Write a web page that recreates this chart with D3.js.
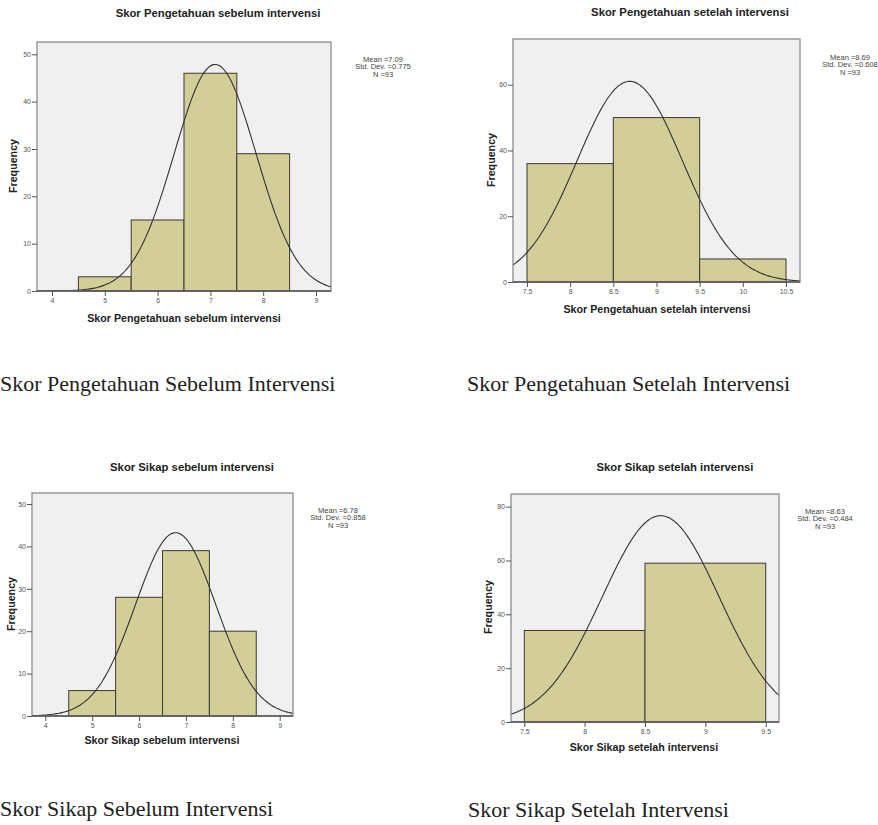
<!DOCTYPE html>
<html>
<head>
<meta charset="utf-8">
<script src="https://cdn.jsdelivr.net/npm/d3@7"></script>
<style>
  body { margin: 0; background: #fff; }
  svg { display: block; }
</style>
</head>
<body>
<svg id="chart" width="878" height="825"></svg>
<script>
// ---- data ----
const titles = [
  "Skor Pengetahuan sebelum intervensi",
  "Skor Pengetahuan setelah intervensi",
  "Skor Sikap sebelum intervensi",
  "Skor Sikap setelah intervensi"
];
const captions = [
  "Skor Pengetahuan Sebelum Intervensi",
  "Skor Pengetahuan Setelah Intervensi",
  "Skor Sikap Sebelum Intervensi",
  "Skor Sikap Setelah Intervensi"
];
// bin centres (bin width 1) and counts
const binsPengSebelum = [5, 6, 7, 8];
const countsPengSebelum = [3, 15, 46, 29];
const binsPengSetelah = [8, 9, 10];
const countsPengSetelah = [36, 50, 7];
const binsSikapSebelum = [5, 6, 7, 8];
const countsSikapSebelum = [6, 28, 39, 20];
const binsSikapSetelah = [8, 9];
const countsSikapSetelah = [34, 59];

const means = [7.09, 8.69, 6.78, 8.63];
const stdDevs = [0.775, 0.608, 0.858, 0.484];
const nValues = [93, 93, 93, 93];
const meanLabels = ["7.09", "8.69", "6.78", "8.63"];
const sdLabels = ["0.775", "0.608", "0.858", "0.484"];

const xTicks = [
  [4, 5, 6, 7, 8, 9],
  [7.5, 8, 8.5, 9, 9.5, 10, 10.5],
  [4, 5, 6, 7, 8, 9],
  [7.5, 8, 8.5, 9, 9.5]
];
const yTicks = [
  [0, 10, 20, 30, 40, 50],
  [0, 20, 40, 60],
  [0, 10, 20, 30, 40, 50],
  [0, 20, 40, 60, 80]
];
const xDomains = [[3.716, 9.284], [7.338, 10.662], [3.716, 9.284], [7.39, 9.61]];
const yDomains = [[0, 52.6], [0, 73.9], [0, 52.6], [0, 84.7]];

const bins = [binsPengSebelum, binsPengSetelah, binsSikapSebelum, binsSikapSetelah];
const counts = [countsPengSebelum, countsPengSetelah, countsSikapSebelum, countsSikapSetelah];

// ---- layout (pixel boxes of each panel) ----
const layout = [
  { l: 37, r: 331, t: 42, b: 291, titleX: 218, titleY: 17, xlabX: 184, xlabY: 322, ylabX: 14, ylabY: 166, statX: 383, statY: 60, capX: 0, capY: 391 },
  { l: 513, r: 800, t: 39, b: 282, titleX: 690, titleY: 16, xlabX: 657, xlabY: 313, ylabX: 492, ylabY: 160, statX: 850, statY: 58, capX: 467, capY: 391 },
  { l: 32, r: 293, t: 493, b: 716, titleX: 192, titleY: 471, xlabX: 162, xlabY: 744, ylabX: 12, ylabY: 604, statX: 338, statY: 511, capX: 0, capY: 816 },
  { l: 511, r: 779, t: 494, b: 722, titleX: 675, titleY: 471, xlabX: 644, xlabY: 751, ylabX: 489, ylabY: 607, statX: 825, statY: 512, capX: 468, capY: 817 }
];

const svg = d3.select("#chart");
const sans = "Arial, 'Liberation Sans', Helvetica, sans-serif";

layout.forEach((L, i) => {
  const g = svg.append("g");
  const x = d3.scaleLinear().domain(xDomains[i]).range([L.l, L.r]);
  const y = d3.scaleLinear().domain(yDomains[i]).range([L.b, L.t]);

  // plot background
  g.append("rect")
    .attr("x", L.l).attr("y", L.t)
    .attr("width", L.r - L.l).attr("height", L.b - L.t)
    .attr("fill", "#f0f0f0");

  // bars
  const data = bins[i].map((c, j) => ({ c, n: counts[i][j] }));
  g.selectAll(".bar")
    .data(data)
    .enter()
    .append("rect")
    .attr("class", "bar")
    .attr("x", d => x(d.c - 0.5))
    .attr("y", d => y(d.n))
    .attr("width", d => x(d.c + 0.5) - x(d.c - 0.5))
    .attr("height", d => y(0) - y(d.n))
    .attr("fill", "#d3ce98")
    .attr("stroke", "#3a3a30")
    .attr("stroke-width", 1);

  // normal curve, N * binwidth * pdf
  const clipId = "clip" + i;
  g.append("clipPath").attr("id", clipId)
    .append("rect")
    .attr("x", L.l).attr("y", L.t)
    .attr("width", L.r - L.l).attr("height", L.b - L.t);
  const mu = means[i], sd = stdDevs[i], n = nValues[i];
  const pdf = v => n / (sd * Math.sqrt(2 * Math.PI)) * Math.exp(-0.5 * ((v - mu) / sd) ** 2);
  const xs = d3.range(0, 201).map(k => xDomains[i][0] + (xDomains[i][1] - xDomains[i][0]) * k / 200);
  g.append("path")
    .datum(xs)
    .attr("clip-path", `url(#${clipId})`)
    .attr("fill", "none")
    .attr("stroke", "#333")
    .attr("stroke-width", 1.1)
    .attr("d", d3.line().x(v => x(v)).y(v => y(pdf(v))).curve(d3.curveBasis));

  // frame
  g.append("rect")
    .attr("x", L.l).attr("y", L.t)
    .attr("width", L.r - L.l).attr("height", L.b - L.t)
    .attr("fill", "none")
    .attr("stroke", "#8c8c8c")
    .attr("stroke-width", 1.3);
  g.append("line")
    .attr("x1", L.l).attr("x2", L.r)
    .attr("y1", L.b).attr("y2", L.b)
    .attr("stroke", "#555").attr("stroke-width", 1.3);

  // axes
  const xAxis = g.append("g")
    .attr("transform", `translate(0,${L.b})`)
    .call(d3.axisBottom(x).tickValues(xTicks[i]).tickFormat(d => String(d)).tickSize(5).tickPadding(2));
  const yAxis = g.append("g")
    .attr("transform", `translate(${L.l},0)`)
    .call(d3.axisLeft(y).tickValues(yTicks[i]).tickFormat(d => String(d)).tickSize(5).tickPadding(1));
  [xAxis, yAxis].forEach(a => {
    a.select(".domain").remove();
    a.selectAll("line").attr("stroke", "#555");
    a.selectAll("text").attr("fill", "#555").style("font-family", sans).style("font-size", "7px");
  });

  // titles and labels
  g.append("text")
    .attr("x", L.titleX).attr("y", L.titleY)
    .attr("text-anchor", "middle")
    .style("font-family", sans).style("font-size", "11.3px").style("font-weight", "bold")
    .attr("fill", "#222")
    .text(titles[i]);
  g.append("text")
    .attr("x", L.xlabX).attr("y", L.xlabY)
    .attr("text-anchor", "middle")
    .style("font-family", sans).style("font-size", "10.7px").style("font-weight", "bold")
    .attr("fill", "#222")
    .text(titles[i]);
  g.append("text")
    .attr("transform", `translate(${L.ylabX},${L.ylabY}) rotate(-90)`)
    .attr("text-anchor", "middle")
    .attr("dominant-baseline", "middle")
    .style("font-family", sans).style("font-size", "10.7px").style("font-weight", "bold")
    .attr("fill", "#222")
    .text("Frequency");

  // stats box
  const stats = ["Mean =" + meanLabels[i], "Std. Dev. =" + sdLabels[i], "N =" + nValues[i]];
  g.selectAll(".stat")
    .data(stats)
    .enter()
    .append("text")
    .attr("x", L.statX)
    .attr("y", (d, k) => L.statY + k * 7.5)
    .attr("text-anchor", "middle")
    .attr("dominant-baseline", "middle")
    .style("font-family", sans).style("font-size", "7.5px")
    .attr("fill", "#444")
    .text(d => d);

  // caption under each chart
  svg.append("text")
    .attr("x", L.capX).attr("y", L.capY)
    .style("font-family", "'Liberation Serif', 'Times New Roman', serif")
    .style("font-size", "22px")
    .attr("fill", "#222")
    .text(captions[i]);
});
</script>
</body>
</html>
